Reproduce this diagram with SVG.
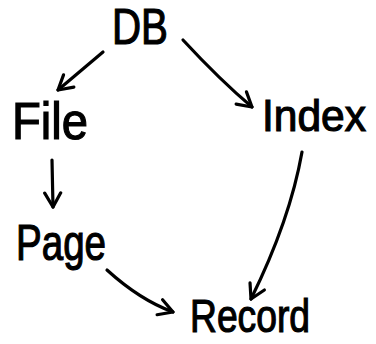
<svg xmlns="http://www.w3.org/2000/svg" width="376" height="344" viewBox="0 0 376 344">
  <style>
    .lbl { font-family: "Liberation Sans", "DejaVu Sans", sans-serif; fill: #000; stroke: #000; stroke-width: 1.2; }
    .edge { fill: none; stroke: #000; stroke-width: 3.2; stroke-linecap: round; stroke-linejoin: round; }
  </style>
  <defs>
    <marker id="head" viewBox="0 0 20 20" refX="16" refY="10" markerWidth="20" markerHeight="20" markerUnits="userSpaceOnUse" orient="auto">
      <polyline points="2,2 16,10 2,18" fill="none" stroke="#000" stroke-width="3.2" stroke-linecap="round" stroke-linejoin="round"/>
    </marker>
  </defs>
  <rect width="376" height="344" fill="#fff"/>

  <!-- connectors -->
  <g id="edges">
    <path class="edge" d="M103,52 L58,90" marker-end="url(#head)"/>
    <path class="edge" d="M183,40 Q220,80 252,107" marker-end="url(#head)"/>
    <path class="edge" d="M52,160 L53,207" marker-end="url(#head)"/>
    <path class="edge" d="M107,270 Q140,300 173,312" marker-end="url(#head)"/>
    <path class="edge" d="M302,152 Q290,220 251,299" marker-end="url(#head)"/>
  </g>

  <!-- nodes -->
  <g id="db"><text class="lbl" x="112" y="44" font-size="50" textLength="56" lengthAdjust="spacingAndGlyphs">DB</text></g>
  <g id="file"><text class="lbl" x="12" y="139" font-size="52" textLength="76" lengthAdjust="spacingAndGlyphs">File</text></g>
  <g id="index"><text class="lbl" x="262" y="131" font-size="45" textLength="104" lengthAdjust="spacingAndGlyphs">Index</text></g>
  <g id="page"><text class="lbl" x="16" y="260" font-size="50" textLength="90" lengthAdjust="spacingAndGlyphs">Page</text></g>
  <g id="record"><text class="lbl" x="190" y="332" font-size="46" textLength="120" lengthAdjust="spacingAndGlyphs">Record</text></g>
</svg>
